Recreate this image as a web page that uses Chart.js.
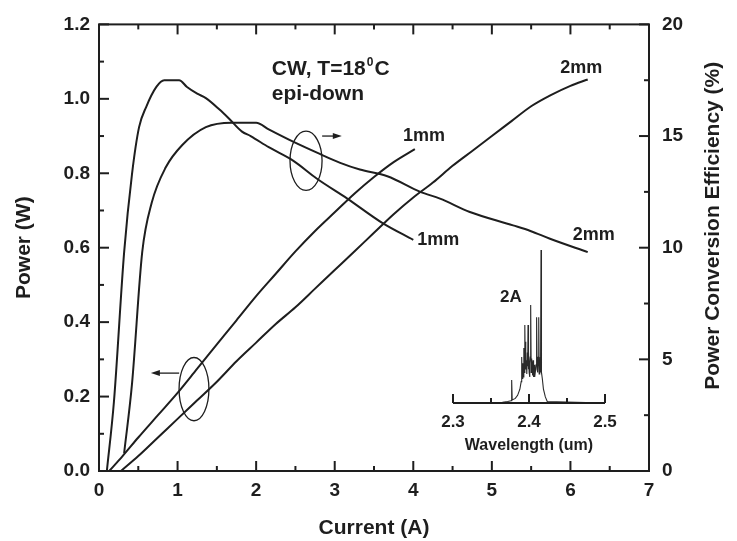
<!DOCTYPE html>
<html>
<head>
<meta charset="utf-8">
<script src="https://cdn.jsdelivr.net/npm/chart.js@4.4.1/dist/chart.umd.min.js"></script>
<style>
    html, body { margin: 0; padding: 0; background: #fff; }
    #wrap { position: relative; width: 737px; height: 541px; }
    #mainChart { position: absolute; left: 0; top: 0; }
    #insetChart { position: absolute; left: 420px; top: 235px; }
</style>
</head>
<body>
<div id="wrap">
    <canvas id="mainChart" width="737" height="541"></canvas>
    <canvas id="insetChart" width="220" height="225"></canvas>
</div>
<script>
// Tick values
const currentTicks = [0, 1, 2, 3, 4, 5, 6, 7];
const powerTicks = [0, 0.2, 0.4, 0.6, 0.8, 1.0, 1.2];
const effTicks = [0, 5, 10, 15, 20];
const wavelengthTicks = [2.3, 2.4, 2.5];

// Output power (W) vs current (A)
const current1mm = [0.13, 0.3, 0.5, 0.75, 1.0, 1.25, 1.5, 1.75, 2.0, 2.25, 2.5, 2.75, 3.0, 3.25, 3.5, 3.75, 4.02];
const power1mm = [0, 0.04, 0.09, 0.15, 0.21, 0.275, 0.34, 0.405, 0.47, 0.53, 0.59, 0.645, 0.695, 0.745, 0.79, 0.83, 0.865];
const current2mm = [0.28, 0.5, 0.75, 1.0, 1.25, 1.5, 1.75, 2.0, 2.25, 2.5, 2.75, 3.0, 3.25, 3.5, 3.75, 4.0, 4.25, 4.5, 4.75, 5.0, 5.25, 5.5, 5.75, 6.0, 6.22];
const power2mm = [0, 0.04, 0.09, 0.14, 0.19, 0.24, 0.295, 0.345, 0.395, 0.44, 0.49, 0.54, 0.59, 0.64, 0.69, 0.735, 0.775, 0.82, 0.86, 0.90, 0.94, 0.98, 1.01, 1.035, 1.052];

// Power conversion efficiency (%) vs current (A)
const effCurrent1mm = [0.10, 0.19, 0.32, 0.42, 0.51, 0.60, 0.73, 0.83, 1.02, 1.12, 1.25, 1.36, 1.53, 1.65, 1.82, 1.93, 2.16, 2.47, 2.77, 3.16, 3.61, 4.0];
const eff1mm = [0.0, 3.1, 9.8, 13.3, 15.4, 16.3, 17.2, 17.5, 17.5, 17.2, 16.9, 16.7, 16.2, 15.8, 15.2, 15.0, 14.5, 13.9, 13.1, 12.2, 11.1, 10.35];
const effCurrent2mm = [0.32, 0.42, 0.55, 0.67, 0.85, 1.06, 1.36, 1.69, 2.0, 2.16, 2.47, 2.81, 3.07, 3.32, 3.67, 4.09, 4.34, 4.72, 5.27, 5.49, 5.74, 6.22];
const eff2mm = [0.8, 3.9, 9.8, 12.0, 13.6, 14.6, 15.4, 15.6, 15.6, 15.3, 14.75, 14.2, 13.8, 13.5, 13.2, 12.5, 12.2, 11.6, 11.0, 10.75, 10.4, 9.8];

// Emission spectrum at 2A (relative intensity)
const wavelength = [2.300, 2.365, 2.372, 2.3765, 2.3772, 2.3779, 2.382, 2.385, 2.388, 2.3897, 2.3904, 2.3911, 2.3918, 2.3925, 2.3932, 2.3938,
    2.3943, 2.3947, 2.3951, 2.3955, 2.3960, 2.3965, 2.3971, 2.3978, 2.3983, 2.3987, 2.3991, 2.3996, 2.4002, 2.4008, 2.4012, 2.4016,
    2.4022, 2.4029, 2.4035, 2.4040, 2.4048, 2.4053, 2.4060, 2.4066, 2.4072, 2.4078, 2.4085, 2.4094, 2.4100, 2.4107, 2.4112, 2.4117,
    2.4123, 2.4128, 2.4134, 2.4139, 2.4143, 2.4148, 2.4152, 2.4158, 2.4164, 2.4175, 2.4190, 2.4215, 2.4240, 2.5];
const intensity = [0, 0.005, 0.01, 0.015, 0.15, 0.02, 0.03, 0.05, 0.09, 0.14, 0.30, 0.16, 0.26, 0.17, 0.36, 0.20,
    0.42, 0.51, 0.24, 0.40, 0.22, 0.28, 0.19, 0.33, 0.24, 0.51, 0.22, 0.34, 0.20, 0.17, 0.26, 0.30,
    0.64, 0.20, 0.29, 0.24, 0.18, 0.28, 0.17, 0.25, 0.22, 0.17, 0.21, 0.25, 0.56, 0.22, 0.30, 0.20,
    0.30, 0.56, 0.19, 0.27, 0.22, 0.30, 0.20, 1.0, 0.20, 0.16, 0.09, 0.04, 0.01, 0];

const ink = '#1e1e1e';
const sans = "'Liberation Sans', Arial, Helvetica, sans-serif";

const pts = (xs, ys) => xs.map((v, i) => ({ x: v, y: ys[i] }));
const fixTicks = list => scale => { scale.ticks = list.map(v => ({ value: v })); };

// major ticks plus one minor tick halfway between each pair
function withMinor(ticks) {
    const out = [];
    ticks.forEach((v, i) => {
        out.push([v, true]);
        if (i < ticks.length - 1) out.push([(v + ticks[i + 1]) / 2, false]);
    });
    return out;
}

function line(ctx, x1, y1, x2, y2) {
    ctx.beginPath();
    ctx.moveTo(x1, y1);
    ctx.lineTo(x2, y2);
    ctx.stroke();
}

// Box around the plot with inward ticks on all four sides
const frameTicks = {
    id: 'frameTicks',
    afterDatasetsDraw(chart) {
        const { ctx, chartArea: a } = chart;
        const { x, y, eff } = chart.scales;
        ctx.save();
        ctx.strokeStyle = ink;
        ctx.lineWidth = 2;
        ctx.strokeRect(a.left, a.top, a.right - a.left, a.bottom - a.top);
        withMinor(currentTicks).forEach(([v, major]) => {
            const px = x.getPixelForValue(v), len = major ? 10 : 5;
            line(ctx, px, a.bottom, px, a.bottom - len);
            line(ctx, px, a.top, px, a.top + len);
        });
        withMinor(powerTicks).forEach(([v, major]) => {
            const py = y.getPixelForValue(v);
            line(ctx, a.left, py, a.left + (major ? 10 : 5), py);
        });
        withMinor(effTicks).forEach(([v, major]) => {
            const py = eff.getPixelForValue(v);
            line(ctx, a.right, py, a.right - (major ? 10 : 5), py);
        });
        ctx.restore();
    }
};

// Text labels, ellipses with arrows and the right-hand axis title
const notes = {
    id: 'notes',
    afterDraw(chart) {
        const { ctx, chartArea: a } = chart;
        const { x, y } = chart.scales;
        ctx.save();
        ctx.fillStyle = ink;
        ctx.strokeStyle = ink;
        ctx.textAlign = 'left';
        ctx.textBaseline = 'alphabetic';

        let px = x.getPixelForValue(2.2);
        const py = y.getPixelForValue(1.064);
        ctx.font = `bold 21px ${sans}`;
        ctx.fillText('CW, T=18', px, py);
        px += ctx.measureText('CW, T=18').width + 1;
        ctx.font = `bold 12px ${sans}`;
        ctx.fillText('0', px, py - 9);
        px += ctx.measureText('0').width + 1;
        ctx.font = `bold 21px ${sans}`;
        ctx.fillText('C', px, py);
        ctx.fillText('epi-down', x.getPixelForValue(2.2), y.getPixelForValue(0.996));

        ctx.font = `bold 18px ${sans}`;
        ctx.fillText('1mm', x.getPixelForValue(3.87), y.getPixelForValue(0.887));
        ctx.fillText('2mm', x.getPixelForValue(5.87), y.getPixelForValue(1.07));
        ctx.fillText('1mm', x.getPixelForValue(4.05), y.getPixelForValue(0.608));
        ctx.fillText('2mm', x.getPixelForValue(6.03), y.getPixelForValue(0.621));

        ctx.lineWidth = 1.3;
        const ring = (cx, cy, rx, ry) => {
            const ex = x.getPixelForValue(cx), ey = y.getPixelForValue(cy);
            ctx.beginPath();
            ctx.ellipse(ex, ey, x.getPixelForValue(cx + rx) - ex, ey - y.getPixelForValue(cy + ry), 0, 0, Math.PI * 2);
            ctx.stroke();
        };
        const arrow = (x1, x2, yv) => {
            const p1 = x.getPixelForValue(x1), p2 = x.getPixelForValue(x2), ay = y.getPixelForValue(yv);
            const dir = Math.sign(p2 - p1);
            line(ctx, p1, ay, p2 - dir * 6, ay);
            ctx.beginPath();
            ctx.moveTo(p2, ay);
            ctx.lineTo(p2 - dir * 9, ay - 3);
            ctx.lineTo(p2 - dir * 9, ay + 3);
            ctx.closePath();
            ctx.fill();
        };
        ring(2.635, 0.8335, 0.204, 0.0796);
        arrow(2.84, 3.09, 0.90);
        ring(1.209, 0.220, 0.19, 0.085);
        arrow(1.02, 0.66, 0.263);

        // right axis title reads bottom to top
        ctx.translate(a.right + 64, (a.top + a.bottom) / 2 - 22);
        ctx.rotate(-Math.PI / 2);
        ctx.textAlign = 'center';
        ctx.textBaseline = 'middle';
        ctx.font = `bold 21px ${sans}`;
        ctx.fillText('Power Conversion Efficiency (%)', 0, 0);
        ctx.restore();
    }
};

const tickFont = { family: sans, size: 19, weight: 'bold' };
const titleFont = { family: sans, size: 21, weight: 'bold' };
const curve = (data, axis) => ({
    data, yAxisID: axis,
    borderColor: ink, borderWidth: 2, pointRadius: 0,
    cubicInterpolationMode: 'monotone', fill: false
});

new Chart(document.getElementById('mainChart'), {
    type: 'line',
    data: {
        datasets: [
            curve(pts(current1mm, power1mm), 'y'),
            curve(pts(current2mm, power2mm), 'y'),
            curve(pts(effCurrent1mm, eff1mm), 'eff'),
            curve(pts(effCurrent2mm, eff2mm), 'eff')
        ]
    },
    options: {
        responsive: false,
        animation: false,
        layout: { padding: { top: 19, left: 0, right: 0, bottom: 0 } },
        plugins: { legend: { display: false }, tooltip: { enabled: false } },
        scales: {
            x: {
                type: 'linear', min: 0, max: 7,
                afterBuildTicks: fixTicks(currentTicks),
                afterFit: s => { s.height = 70; },
                grid: { display: false, drawTicks: false },
                border: { display: false },
                ticks: { font: tickFont, color: ink, padding: 8, maxRotation: 0 },
                title: { display: true, text: 'Current (A)', font: titleFont, color: ink, padding: { top: 0, bottom: 0 } }
            },
            y: {
                type: 'linear', position: 'left', min: 0, max: 1.2,
                afterBuildTicks: fixTicks(powerTicks),
                afterFit: s => { s.width = 99; },
                grid: { display: false, drawTicks: false },
                border: { display: false },
                ticks: { font: tickFont, color: ink, padding: 9, callback: v => v.toFixed(1) },
                title: { display: true, text: 'Power (W)', font: titleFont, color: ink, padding: { top: 12, bottom: 0 } }
            },
            eff: {
                type: 'linear', position: 'right', min: 0, max: 20,
                afterBuildTicks: fixTicks(effTicks),
                afterFit: s => { s.width = 88; },
                grid: { display: false, drawTicks: false },
                border: { display: false },
                ticks: { font: tickFont, color: ink, padding: 13 }
            }
        }
    },
    plugins: [frameTicks, notes]
});

// Inset: baseline with upward ticks and the "2A" label
const insetAxis = {
    id: 'insetAxis',
    afterDraw(chart) {
        const { ctx, chartArea: a } = chart;
        const { x, y } = chart.scales;
        ctx.save();
        ctx.strokeStyle = ink;
        ctx.lineWidth = 2;
        line(ctx, a.left, a.bottom, a.right, a.bottom);
        withMinor(wavelengthTicks).forEach(([v, major]) => {
            const px = x.getPixelForValue(v);
            line(ctx, px, a.bottom, px, a.bottom - (major ? 9 : 5));
        });
        ctx.fillStyle = ink;
        ctx.font = `bold 17px ${sans}`;
        ctx.fillText('2A', x.getPixelForValue(2.3618), y.getPixelForValue(0.66));
        ctx.restore();
    }
};

new Chart(document.getElementById('insetChart'), {
    type: 'line',
    data: {
        datasets: [{
            data: pts(wavelength, intensity),
            borderColor: '#2a2a2a', borderWidth: 1.1, pointRadius: 0, tension: 0, fill: false
        }]
    },
    options: {
        responsive: false,
        animation: false,
        layout: { padding: { top: 15, left: 33, right: 35, bottom: 0 } },
        plugins: { legend: { display: false }, tooltip: { enabled: false } },
        scales: {
            x: {
                type: 'linear', min: 2.3, max: 2.5,
                afterBuildTicks: fixTicks(wavelengthTicks),
                afterFit: s => { s.height = 57; },
                grid: { display: false, drawTicks: false },
                border: { display: false },
                ticks: { font: { family: sans, size: 17, weight: 'bold' }, color: ink, padding: 9, maxRotation: 0, callback: v => v.toFixed(1) },
                title: { display: true, text: 'Wavelength (um)', font: { family: sans, size: 16, weight: 'bold' }, color: ink, padding: { top: 0, bottom: 5 } }
            },
            y: { display: false, min: 0, max: 1 }
        }
    },
    plugins: [insetAxis]
});
</script>
</body>
</html>
